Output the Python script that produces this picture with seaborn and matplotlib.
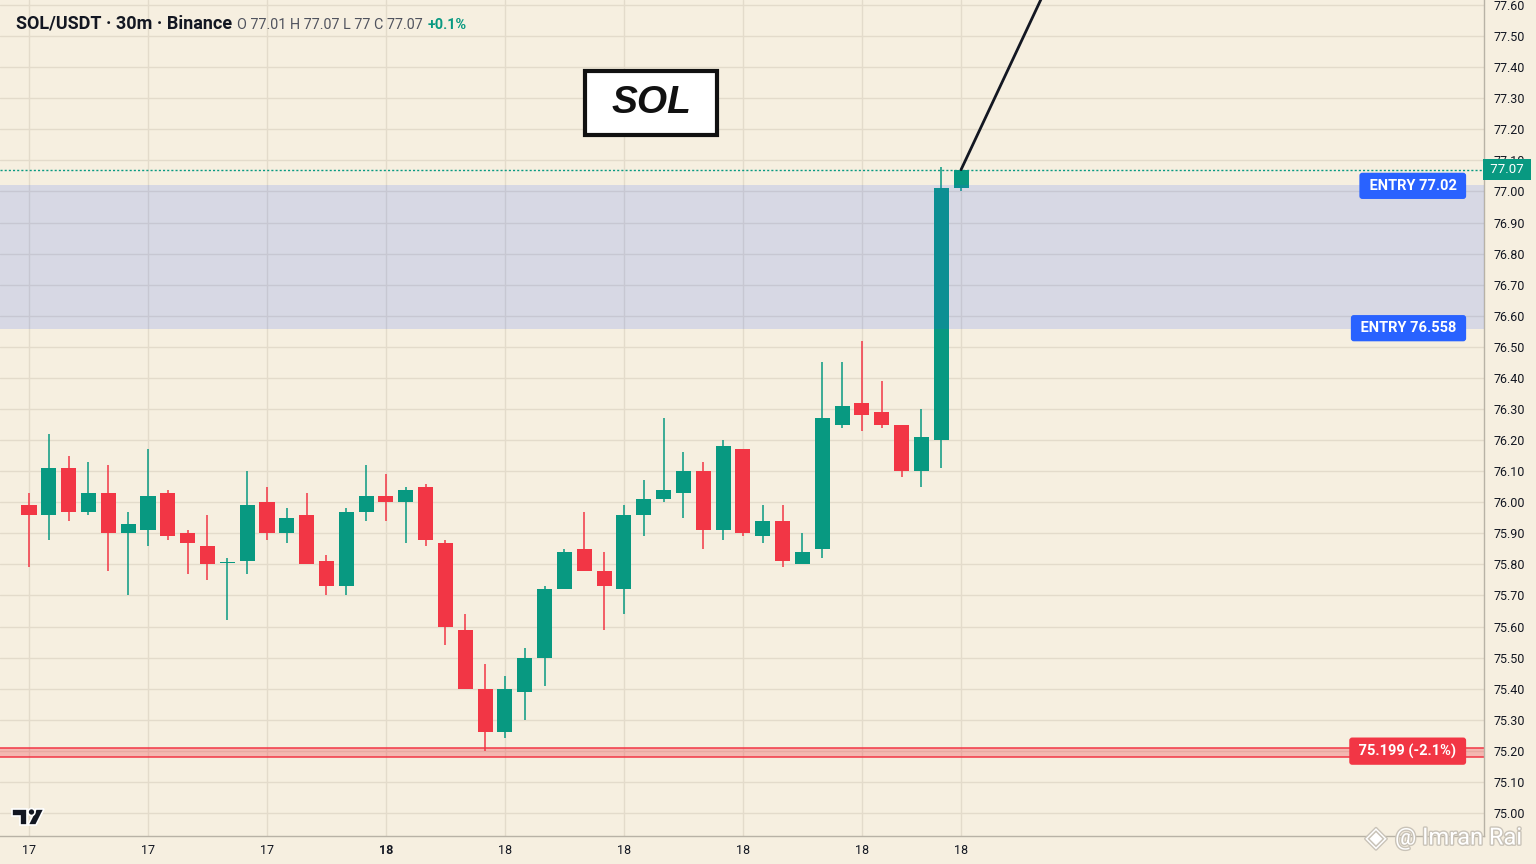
import numpy as np
import pandas as pd
import matplotlib
matplotlib.use("Agg")
import matplotlib.pyplot as plt
import matplotlib.patheffects as pe
from matplotlib.patches import Rectangle, Polygon, Ellipse
import seaborn as sns

# Candle data (30m SOL/USDT)
opens = [75.99, 75.96, 76.11, 75.97, 76.03, 75.90, 75.91, 76.03, 75.90, 75.86,
         75.805, 75.81, 76.00, 75.90, 75.96, 75.81, 75.73, 75.97, 76.02, 76.00,
         76.05, 75.87, 75.59, 75.40, 75.26, 75.39, 75.50, 75.72, 75.85, 75.78,
         75.72, 75.96, 76.01, 76.03, 76.10, 75.91, 76.17, 75.89, 75.94, 75.80,
         75.85, 76.25, 76.32, 76.29, 76.25, 76.10, 76.20, 77.01]
highs = [76.03, 76.22, 76.15, 76.13, 76.12, 75.97, 76.17, 76.04, 75.91, 75.96,
         75.82, 76.10, 76.05, 75.98, 76.03, 75.83, 75.98, 76.12, 76.09, 76.05,
         76.06, 75.88, 75.64, 75.48, 75.44, 75.53, 75.73, 75.85, 75.97, 75.84,
         75.99, 76.07, 76.27, 76.16, 76.13, 76.20, 76.17, 75.99, 75.99, 75.90,
         76.45, 76.45, 76.52, 76.39, 76.25, 76.30, 77.08, 77.07]
lows = [75.79, 75.88, 75.94, 75.96, 75.78, 75.70, 75.86, 75.88, 75.77, 75.75,
        75.62, 75.77, 75.88, 75.87, 75.80, 75.70, 75.70, 75.94, 75.94, 75.87,
        75.86, 75.54, 75.40, 75.20, 75.24, 75.30, 75.41, 75.72, 75.78, 75.59,
        75.64, 75.89, 76.00, 75.95, 75.85, 75.88, 75.89, 75.87, 75.79, 75.80,
        75.82, 76.24, 76.23, 76.24, 76.08, 76.05, 76.11, 77.00]
closes = [75.96, 76.11, 75.97, 76.03, 75.90, 75.93, 76.02, 75.89, 75.87, 75.80,
          75.808, 75.99, 75.90, 75.95, 75.80, 75.73, 75.97, 76.02, 76.00, 76.04,
          75.88, 75.60, 75.40, 75.26, 75.40, 75.50, 75.72, 75.84, 75.78, 75.73,
          75.96, 76.01, 76.04, 76.10, 75.91, 76.18, 75.90, 75.94, 75.81, 75.84,
          76.27, 76.31, 76.28, 76.25, 76.10, 76.21, 77.01, 77.07]

tick_idx = [0, 6, 12, 18, 24, 30, 36, 42, 47]
tick_labels = ["17", "17", "17", "18", "18", "18", "18", "18", "18"]
price_ticks = np.round(np.arange(75.0, 77.61, 0.1), 2)

entry_hi = 77.02
entry_lo = 76.558
stop_price = 75.199
last_price = 77.07
trend_x = [47, 52]
trend_y = [77.07, 77.75]

GREEN = "#089981"
RED = "#F23645"
BG = "#F6EFE0"
GRID = "#E3DBCB"
TXT = "#131722"

df = pd.DataFrame({"open": opens, "high": highs, "low": lows, "close": closes})
df["idx"] = np.arange(len(df))
df["up"] = df["close"] >= df["open"]
df["color"] = np.where(df["up"], GREEN, RED)

sns.set_theme(style="white", rc={"axes.facecolor": BG, "figure.facecolor": BG})
plt.rcParams["font.family"] = ["Roboto", "DejaVu Sans"]

W, H = 1536, 864
fig = plt.figure(figsize=(15.36, 8.64), dpi=100)
ax = fig.add_axes([0, 28 / H, 1484 / W, 836 / H])
ax.set_facecolor(BG)


def px(x, y):
    # pixel position (from top-left) -> figure fraction
    return (x / W, 1 - y / H)


# grid
ax.set_yticks(price_ticks)
ax.set_yticklabels([f"{p:.2f}" for p in price_ticks])
ax.set_xticks(tick_idx)
ax.set_xticklabels(tick_labels)
ax.grid(True, color=GRID, lw=1, zorder=0)
ax.set_axisbelow(True)

# stop zone
ax.axhspan(75.18, 75.21, color=RED, alpha=0.3, lw=0, zorder=1)
ax.axhline(75.18, color=RED, lw=1.1, zorder=1)
ax.axhline(75.21, color=RED, lw=1.1, zorder=1)

# wicks and bodies
ax.vlines(df["idx"], df["low"], df["high"], colors=df["color"], lw=1.1, zorder=2)
body_lo = df[["open", "close"]].min(axis=1)
body_h = (df["close"] - df["open"]).abs().clip(lower=0.004)
ax.bar(df["idx"], body_h, bottom=body_lo, width=0.76, color=df["color"], lw=0, zorder=2)

# entry zone overlay
ax.axhspan(entry_lo, entry_hi, color="#285AFF", alpha=0.15, lw=0, zorder=3)

# last price dotted line
ax.axhline(last_price, color=GREEN, lw=1, ls=(0, (1.5, 1.5)), zorder=3)

# trend line
sns.lineplot(x=trend_x, y=trend_y, ax=ax, color=TXT, lw=2, zorder=4)

ax.set_xlim(-1.462, 73.37)
ax.set_ylim(74.926, 77.616)

ax.yaxis.tick_right()
ax.tick_params(axis="y", length=0, pad=7, labelsize=9, labelcolor=TXT)
ax.tick_params(axis="x", length=0, pad=6, labelsize=9, labelcolor=TXT)
for lbl, t in zip(ax.get_xticklabels(), tick_idx):
    if t == 18:
        lbl.set_fontweight("bold")
for s in ["top", "left"]:
    ax.spines[s].set_visible(False)
for s in ["right", "bottom"]:
    ax.spines[s].set_color("#B8B2A6")
    ax.spines[s].set_linewidth(1)

ytr = ax.get_yaxis_transform()
box_kw = dict(transform=ytr, ha="right", va="center", color="white", fontsize=10.5,
              weight="bold", zorder=6)
lbl_x = (1466 - 6) / 1484
ax.text(lbl_x, entry_hi - 0.002, " ENTRY 77.02 ", **box_kw,
        bbox=dict(boxstyle="round,pad=0.42,rounding_size=0.2", fc="#2962FF", ec="none"))
ax.text(lbl_x, entry_lo + 0.002, " ENTRY 76.558 ", **box_kw,
        bbox=dict(boxstyle="round,pad=0.42,rounding_size=0.2", fc="#2962FF", ec="none"))
ax.text(lbl_x, stop_price, " 75.199 (-2.1%) ", **box_kw,
        bbox=dict(boxstyle="round,pad=0.42,rounding_size=0.2", fc=RED, ec="none"))
ax.text(1 + 3 / 1484, last_price, " 77.07 ", transform=ytr, ha="left", va="center",
        color="white", fontsize=9.5, zorder=6, clip_on=False,
        bbox=dict(boxstyle="square,pad=0.3", fc=GREEN, ec="none"))

# header
fig.text(*px(16, 29), "SOL/USDT · 30m · Binance", fontsize=13, weight="bold", color=TXT, va="baseline")
fig.text(*px(237, 29), "O 77.01 H 77.07 L 77 C 77.07", fontsize=10.4, color="#50535E", va="baseline")
fig.text(*px(428, 29), "+0.1%", fontsize=10.4, weight="bold", color=GREEN, va="baseline")

# SOL box
fig.add_artist(Rectangle(px(585, 135), 132 / W, 64 / H, transform=fig.transFigure,
                         fc="white", ec="#111111", lw=3, zorder=5))
fig.text(*px(651, 103), "SOL", fontsize=28, weight="bold", style="italic",
         family="Liberation Sans", color="#111111", ha="center", va="center", zorder=6)

# TradingView logo
logo_kw = dict(transform=fig.transFigure, fc=TXT, ec="white", lw=1.2, zorder=6)
fig.add_artist(Polygon([px(12, 809), px(27, 809), px(27, 825), px(20, 825), px(20, 816), px(12, 816)],
                       closed=True, **logo_kw))
fig.add_artist(Polygon([px(36, 809), px(44, 809), px(36, 825), px(28, 825)], closed=True, **logo_kw))
fig.add_artist(Ellipse(px(31.5, 812), 7 / W, 7 / H, **logo_kw))

# watermark
fig.text(*px(1376, 838), "◈", fontsize=20, color="white", ha="center", va="center",
         family="DejaVu Sans", path_effects=[pe.withStroke(linewidth=2, foreground="#C9C3B8")])
fig.text(*px(1395, 838), "@ Imran Rai", fontsize=17, color="white", va="center",
         path_effects=[pe.withStroke(linewidth=2, foreground="#C9C3B8")])

fig.savefig("out.png", dpi=100, facecolor=BG)
